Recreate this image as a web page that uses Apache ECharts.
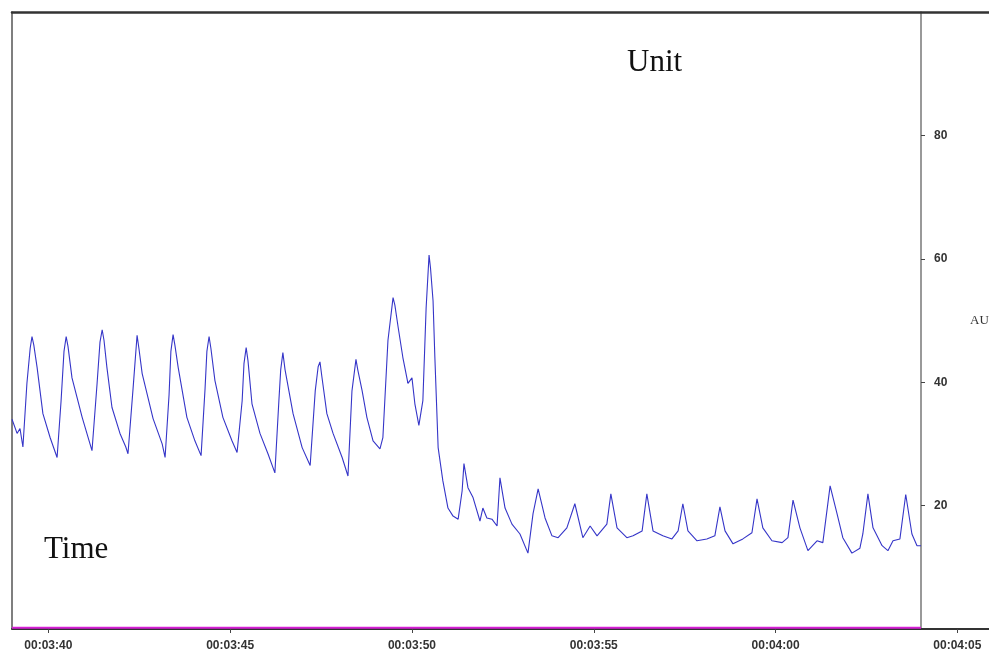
<!DOCTYPE html>
<html>
<head>
<meta charset="utf-8">
<script src="https://cdn.jsdelivr.net/npm/echarts@6/dist/echarts.min.js"></script>
<style>
  html, body { margin: 0; padding: 0; background: #fff; }
  #chart { width: 989px; height: 654px; }
</style>
</head>
<body>
<div id="chart"></div>
<script>
// time in seconds (00:03:39 .. 00:04:04) and signal in AU, one row per beat
var times = [
  219.00, 219.14, 219.22, 219.30, 219.41, 219.50, 219.55, 219.60, 219.69, 219.85, 220.05,
  220.24, 220.35, 220.43, 220.49, 220.54, 220.65, 220.79, 220.93,
  221.20, 221.34, 221.42, 221.48, 221.53, 221.61, 221.75, 221.97, 222.13,
  222.19, 222.33, 222.44, 222.49, 222.58, 222.88, 223.13,
  223.21, 223.32, 223.37, 223.43, 223.48, 223.57, 223.81, 224.03,
  224.20, 224.31, 224.36, 224.42, 224.47, 224.58, 224.80, 225.05,
  225.19, 225.33, 225.38, 225.44, 225.49, 225.60, 225.82, 226.04,
  226.23, 226.34, 226.39, 226.45, 226.51, 226.73, 226.98,
  227.20, 227.34, 227.42, 227.47, 227.52, 227.66, 227.83, 228.08,
  228.24, 228.35, 228.46, 228.51, 228.63, 228.76, 228.93, 229.12,
  229.20, 229.34, 229.48, 229.53, 229.62, 229.75, 229.89, 230.00, 230.08,
  230.19, 230.30, 230.39, 230.47, 230.51, 230.58, 230.63, 230.72, 230.85, 230.99, 231.13,
  231.27, 231.38, 231.43, 231.54, 231.68, 231.87, 231.95, 232.06, 232.20,
  232.34, 232.42, 232.56, 232.75, 232.97,
  233.19, 233.33, 233.47, 233.66, 233.85, 234.02,
  234.26, 234.48, 234.70, 234.90, 235.09,
  235.36, 235.47, 235.64, 235.91, 236.08,
  236.33, 236.46, 236.63, 236.90, 237.15,
  237.32, 237.45, 237.59, 237.84, 238.11,
  238.33, 238.47, 238.61, 238.83, 239.10,
  239.35, 239.49, 239.65, 239.90, 240.18,
  240.34, 240.48, 240.67, 240.89, 241.14,
  241.30, 241.50, 241.69, 241.85, 242.10,
  242.32, 242.40, 242.54, 242.68, 242.93, 243.09, 243.23,
  243.42, 243.58, 243.75, 243.89, 244.00
];
var values = [
  34.0, 31.7, 32.5, 29.5, 39.8, 45.5, 47.4, 46.0, 42.4, 34.9, 31.0,
  27.8, 37.0, 45.0, 47.4, 45.8, 40.7, 37.5, 34.3,
  28.9, 39.8, 46.5, 48.5, 46.8, 42.4, 35.9, 31.7, 29.5,
  28.4, 39.0, 47.6, 45.5, 41.4, 34.1, 30.0,
  27.8, 38.0, 45.0, 47.7, 46.0, 42.4, 34.3, 30.5,
  28.1, 39.0, 45.0, 47.4, 45.5, 40.3, 34.3, 30.5,
  28.6, 37.0, 43.0, 45.6, 43.5, 36.5, 31.7, 28.4,
  25.3, 37.0, 42.0, 44.8, 42.0, 34.9, 29.4,
  26.5, 38.6, 42.5, 43.3, 41.0, 34.9, 31.7, 27.8,
  24.8, 38.6, 43.7, 42.0, 38.6, 34.3, 30.5, 29.2,
  31.0, 46.8, 53.7, 52.5, 48.9, 44.0, 39.8, 40.7, 36.5,
  33.0, 37.0, 52.1, 60.6, 58.5, 53.2, 44.0, 29.4, 24.0, 19.6, 18.3,
  17.8, 22.4, 26.8, 22.9, 21.3, 17.5, 19.6, 18.0, 17.8,
  16.7, 24.5, 19.6, 17.0, 15.4,
  12.3, 18.7, 22.7, 18.0, 15.1, 14.8,
  16.4, 20.3, 14.8, 16.7, 15.1,
  17.0, 21.9, 16.4, 14.8, 15.1,
  15.9, 21.9, 15.9, 15.1, 14.6,
  15.9, 20.3, 15.9, 14.3, 14.6,
  15.1, 19.8, 15.9, 13.8, 14.6,
  15.6, 21.1, 16.4, 14.3, 14.0,
  14.8, 20.9, 16.4, 12.7, 14.3,
  14.0, 23.2, 18.7, 14.8, 12.3,
  13.1, 15.4, 21.9, 16.4, 13.5, 12.7, 14.3,
  14.6, 21.8, 15.4, 13.5, 13.5
];
// baseline marker along the bottom
var markerTimes = [219.0, 244.0];
var markerValues = [0.2, 0.2];

var xTicks = [220, 225, 230, 235, 240, 245];
var yTicks = [20, 40, 60, 80];

function pad(n) { return (n < 10 ? '0' : '') + n; }
function fmtTime(v) {
  var t = Math.round(v);
  return '00:' + pad(Math.floor(t / 60)) + ':' + pad(t % 60);
}

var tickFont = "'Liberation Sans', Arial, sans-serif";
var serif = "'Liberation Serif', 'DejaVu Serif', serif";

var chart = echarts.init(document.getElementById('chart'), null, { renderer: 'canvas' });

chart.setOption({
  backgroundColor: '#ffffff',
  animation: false,
  title: [
    { text: 'Unit', left: 627, top: 47, padding: 0,
      textStyle: { fontFamily: serif, fontSize: 31, fontWeight: 'normal', color: '#111' } },
    { text: 'Time', left: 44, top: 534, padding: 0,
      textStyle: { fontFamily: serif, fontSize: 31, fontWeight: 'normal', color: '#111' } }
  ],
  grid: { left: 12, top: 12, right: 0, bottom: 25, outerBoundsMode: 'none' },
  xAxis: [
    {
      type: 'value',
      min: 219,
      max: 245.87,
      axisLine: { show: true, lineStyle: { color: '#333', width: 2 } },
      axisTick: { show: true, length: 4, customValues: xTicks, lineStyle: { color: '#444' } },
      axisLabel: {
        customValues: xTicks,
        formatter: fmtTime,
        margin: 11,
        fontFamily: tickFont,
        fontWeight: 'bold',
        fontSize: 12,
        color: '#333'
      },
      splitLine: { show: false }
    },
    {
      type: 'value',
      position: 'top',
      min: 219,
      max: 245.87,
      axisLine: { show: true, onZero: false, lineStyle: { color: '#333', width: 2.5 } },
      axisTick: { show: false },
      axisLabel: { show: false },
      splitLine: { show: false }
    }
  ],
  yAxis: [
    {
      type: 'value',
      position: 'right',
      offset: -68,
      min: 0,
      max: 100,
      name: 'AU',
      nameLocation: 'middle',
      nameRotate: 0,
      nameGap: 49,
      nameTextStyle: { fontFamily: serif, fontSize: 13, color: '#333' },
      axisLine: { show: true, onZero: false, lineStyle: { color: '#777', width: 1.5 } },
      axisTick: { show: true, length: 4, customValues: yTicks, lineStyle: { color: '#444' } },
      axisLabel: {
        customValues: yTicks,
        margin: 13,
        fontFamily: tickFont,
        fontWeight: 'bold',
        fontSize: 12,
        color: '#333'
      },
      splitLine: { show: false }
    },
    {
      type: 'value',
      position: 'left',
      min: 0,
      max: 100,
      axisLine: { show: true, onZero: false, lineStyle: { color: '#555', width: 1.5 } },
      axisTick: { show: false },
      axisLabel: { show: false },
      splitLine: { show: false }
    }
  ],
  series: [
    {
      type: 'line',
      data: markerTimes.map(function (t, i) { return [t, markerValues[i]]; }),
      symbol: 'none',
      lineStyle: { color: '#d61fd6', width: 2 },
      silent: true
    },
    {
      type: 'line',
      data: times.map(function (t, i) { return [t, values[i]]; }),
      symbol: 'none',
      lineStyle: { color: '#3535c8', width: 1.1 },
      z: 3
    }
  ]
});
</script>
</body>
</html>
